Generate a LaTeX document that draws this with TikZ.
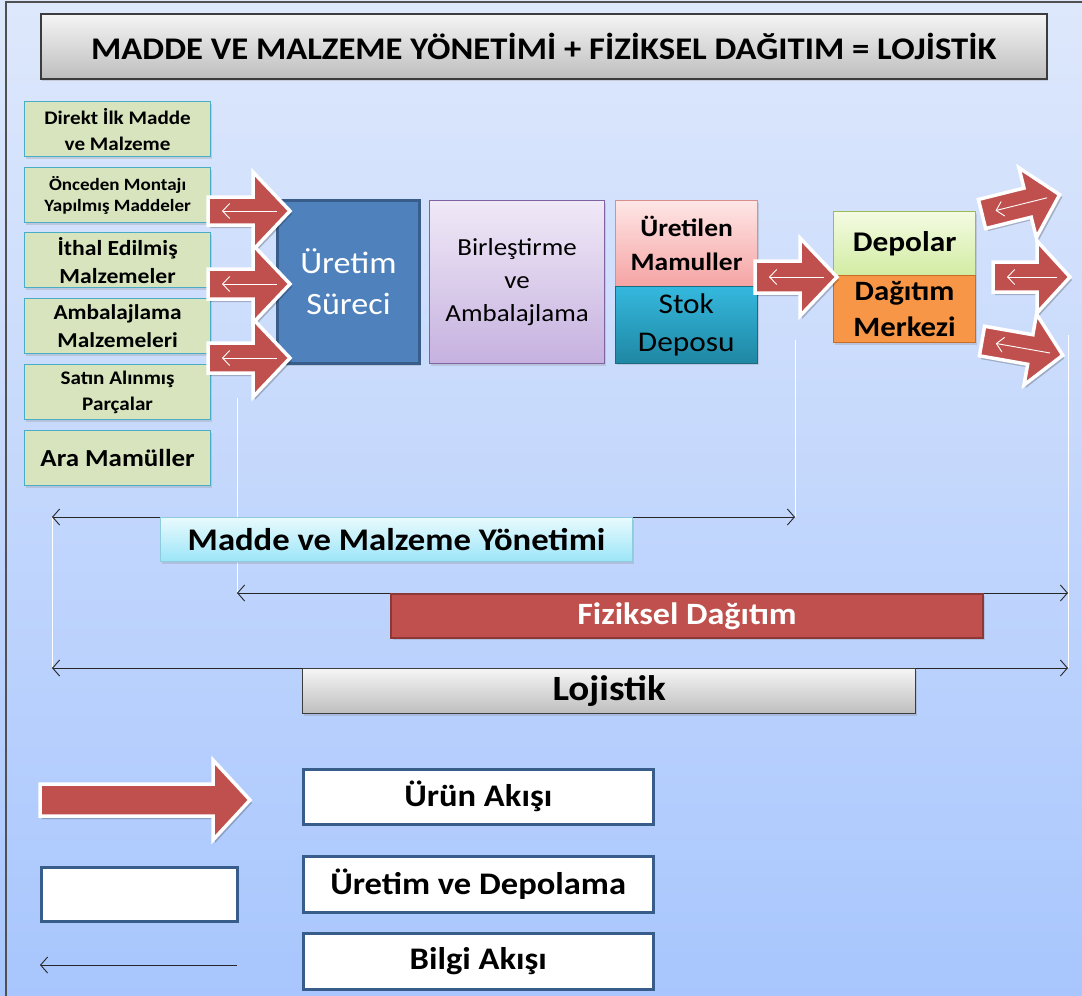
\documentclass[tikz,border=0pt]{standalone}
\usepackage{fontspec}
\setmainfont{Carlito}[FakeStretch=1.1]
\usetikzlibrary{arrows.meta,shadows}

\definecolor{bgtop}{HTML}{DEE8FC}
\definecolor{bgbot}{HTML}{A8C6FD}
\definecolor{frameline}{HTML}{505050}
\definecolor{srcfill}{HTML}{D7E4BD}
\definecolor{srcline}{HTML}{4BACC6}
\definecolor{flowred}{HTML}{C0504D}
\definecolor{flowredline}{HTML}{8C3836}
\definecolor{procfill}{HTML}{4F81BD}
\definecolor{procline}{HTML}{385D8A}
\definecolor{lavtop}{HTML}{F0E9F7}
\definecolor{lavbot}{HTML}{C6B1DF}
\definecolor{lavline}{HTML}{8064A2}
\definecolor{pinktop}{HTML}{FFE6E6}
\definecolor{pinkbot}{HTML}{F5A3A3}
\definecolor{pinkline}{HTML}{D98F8D}
\definecolor{tealtop}{HTML}{35B8DE}
\definecolor{tealbot}{HTML}{1F87A3}
\definecolor{limetop}{HTML}{F4FBE2}
\definecolor{limebot}{HTML}{D2ECA2}
\definecolor{limeline}{HTML}{9BBB59}
\definecolor{orangefill}{HTML}{F79646}
\definecolor{orangeline}{HTML}{C86D28}
\definecolor{cyantop}{HTML}{E8FAFD}
\definecolor{cyanbot}{HTML}{9BE5F8}
\definecolor{cyanline}{HTML}{8ECBDC}
\definecolor{graytop}{HTML}{F5F5F5}
\definecolor{graybot}{HTML}{BEBEBE}
\definecolor{grayline}{HTML}{3C3C3C}

\newcommand{\fs}[1]{\fontsize{#1}{1.2\dimexpr#1pt\relax}\selectfont}

\tikzset{
  base/.style={anchor=north west, inner sep=0pt, align=center, line width=1.2pt,
    drop shadow={shadow xshift=1.5pt, shadow yshift=-2pt, opacity=0.25}},
  srcbox/.style={base, fill=srcfill, draw=srcline, minimum width=186pt, minimum height=55pt},
  procbox/.style={base, fill=procfill, draw=procline, line width=3pt, text=white},
  joinbox/.style={base, top color=lavtop, bottom color=lavbot, draw=lavline},
  madebox/.style={base, top color=pinktop, bottom color=pinkbot, draw=pinkline, font=\bfseries},
  stockbox/.style={base, top color=tealtop, bottom color=tealbot, draw=tealbot!80!black, line width=0.6pt},
  depotbox/.style={base, top color=limetop, bottom color=limebot, draw=limeline, font=\bfseries},
  distbox/.style={base, fill=orangefill, draw=orangeline, font=\bfseries},
  titlebox/.style={base, top color=graytop, bottom color=graybot, draw=grayline, line width=1.5pt},
  mmybox/.style={base, top color=cyantop, bottom color=cyanbot, draw=cyanline},
  fizbox/.style={base, fill=flowred, draw=flowredline, line width=2pt, text=white},
  lojbox/.style={base, top color=graytop, bottom color=graybot, draw=grayline},
  keybox/.style={base, fill=white, draw=procline, line width=2.5pt, minimum width=350pt, font=\fontsize{31.4}{36}\selectfont\bfseries},
  flowshape/.style={fill=flowred, draw=white, line width=3.5pt, line join=miter},
  flowshadow/.style={fill=black, opacity=0.22},
  infow/.style={draw=white, line width=0.9pt, -{Straight Barb[length=7pt,width=15pt,line width=0.9pt]}},
  infok/.style={draw=black!85, line width=0.9pt, {Straight Barb[length=7pt,width=16pt,line width=0.9pt]}-{Straight Barb[length=7pt,width=16pt,line width=0.9pt]}},
  infoone/.style={draw=black!85, line width=0.9pt, -{Straight Barb[length=7pt,width=16pt,line width=0.9pt]}},
  guide/.style={draw=white, line width=0.9pt},
}

% product-flow block arrow: name, tail point, angle, length, body half, head half, head length
\newcommand{\prodarrow}[7]{%
  \begin{scope}[shift={#2}, rotate=#3]
    \fill[flowshadow] (2,-#5+3) -- ({#4-#7+2},-#5+3) -- ({#4-#7+2},-#6+3) -- (#4+2,3)
      -- ({#4-#7+2},#6+3) -- ({#4-#7+2},#5+3) -- (2,#5+3) -- cycle;
    \draw[flowshape] (0,-#5) -- ({#4-#7},-#5) -- ({#4-#7},-#6) -- (#4,0)
      -- ({#4-#7},#6) -- ({#4-#7},#5) -- (0,#5) -- cycle;
    \coordinate (#1-tail) at (0,0);
    \coordinate (#1-tip) at (#4,0);
    \coordinate (#1-in) at ({#4-13},0);
    \coordinate (#1-out) at (14,0);
  \end{scope}}

\begin{document}
\begin{tikzpicture}[x=1pt,y=-1pt]
  \useasboundingbox (0,0) rectangle (1082,996);
  \shade[top color=bgtop, bottom color=bgbot] (0,0) rectangle (1082,996);
  \draw[frameline, line width=1.6pt] (6,996) -- (6,2) -- (1082,2);

  % heading
  \node[titlebox, minimum width=1006pt, minimum height=65pt,
        font=\fontsize{31.5}{36}\selectfont\bfseries] (title) at (40,13)
        {MADDE VE MALZEME YÖNETİMİ + FİZİKSEL DAĞITIM = LOJİSTİK};

  % guide lines
  \coordinate (g1a) at (237,398); \coordinate (g1b) at (237,593);
  \coordinate (g2a) at (795,340); \coordinate (g2b) at (795,517);
  \coordinate (g3a) at (52,517);  \coordinate (g3b) at (52,668);
  \coordinate (g4a) at (1068,335); \coordinate (g4b) at (1068,668);
  \draw[guide] (g1a) -- (g1b);
  \draw[guide] (g2a) -- (g2b);
  \draw[guide] (g3a) -- (g3b);
  \draw[guide] (g4a) -- (g4b);

  % input materials
  \node[srcbox, font=\fontsize{19.2}{26}\selectfont\bfseries] (s1) at (24,101) {Direkt İlk Madde\\ve Malzeme};
  \node[srcbox, font=\fontsize{17.3}{21}\selectfont\bfseries] (s2) at (24,167) {Önceden Montajı\\Yapılmış Maddeler};
  \node[srcbox, font=\fontsize{21.5}{28}\selectfont\bfseries] (s3) at (24,232) {İthal Edilmiş\\Malzemeler};
  \node[srcbox, font=\fontsize{21.2}{28}\selectfont\bfseries] (s4) at (24,298) {Ambalajlama\\Malzemeleri};
  \node[srcbox, font=\fontsize{19.2}{26}\selectfont\bfseries] (s5) at (24,364) {Satın Alınmış\\Parçalar};
  \node[srcbox, font=\fontsize{24.5}{28}\selectfont\bfseries] (s6) at (24,430) {Ara Mamüller};

  % production and storage
  \node[procbox, minimum width=142pt, minimum height=163pt, font=\fontsize{31}{41}\selectfont] (prod) at (276,199) {Üretim\\Süreci};
  \node[joinbox, minimum width=175pt, minimum height=163pt, font=\fontsize{24.5}{33}\selectfont] (pack) at (429,200) {Birleştirme\\ve\\Ambalajlama};
  \node[madebox, minimum width=142pt, minimum height=86pt, font=\fontsize{25}{34}\selectfont\bfseries] (made) at (615,200) {Üretilen\\Mamuller};
  \node[stockbox, minimum width=142pt, minimum height=77pt, font=\fontsize{28.5}{38}\selectfont] (stock) at (615,286) {Stok\\Deposu};
  \node[depotbox, minimum width=142pt, minimum height=64pt, font=\fontsize{28.5}{32}\selectfont\bfseries] (depot) at (833,211) {Depolar};
  \node[distbox, minimum width=142pt, minimum height=67pt, font=\fontsize{28}{36}\selectfont\bfseries] (dist) at (833,275) {Dağıtım\\Merkezi};

  % product flows with information flows inside
  \prodarrow{a1}{(208,211)}{0}{82}{14}{39}{37}
  \prodarrow{a2}{(208,284)}{0}{82}{15}{39}{37}
  \prodarrow{a3}{(208,358)}{0}{82}{15}{39}{37}
  \prodarrow{a4}{(755,277)}{0}{82}{16}{39}{37}
  \prodarrow{a5}{(982,214)}{14}{80}{15}{36}{33}
  \prodarrow{a6}{(993,277)}{0}{77}{15}{36}{33}
  \prodarrow{a7}{(982,341)}{-10}{82}{15}{36}{33}
  \foreach \a in {a1,a2,a3,a4,a5,a6,a7}
    \draw[infow] (\a-in) -- (\a-out);

  % spans
  \coordinate (mL) at (52,517);  \coordinate (mR) at (795,517);
  \coordinate (fL) at (237,593); \coordinate (fR) at (1068,593);
  \coordinate (lL) at (52,668);  \coordinate (lR) at (1068,668);
  \draw[infok] (mL) -- (mR);
  \draw[infok] (fL) -- (fR);
  \draw[infok] (lL) -- (lR);
  \node[mmybox, minimum width=472pt, minimum height=44pt, font=\fontsize{31.5}{34}\selectfont\bfseries] (mmy) at (160,517) {Madde ve Malzeme Yönetimi};
  \node[fizbox, minimum width=592pt, minimum height=44pt, font=\fontsize{31}{34}\selectfont\bfseries] (fiz) at (390,593) {Fiziksel Dağıtım};
  \node[lojbox, minimum width=613pt, minimum height=45pt, font=\fontsize{35.5}{38}\selectfont\bfseries] (loj) at (302,668) {Lojistik};

  % key
  \prodarrow{k1}{(40,800)}{0}{210}{16}{40}{37}
  \node[keybox, minimum height=55pt] (k1t) at (302,768) {Ürün Akışı};
  \node[base, fill=white, draw=procline, line width=2.5pt, minimum width=196pt, minimum height=54pt] (k2) at (40,866) {};
  \node[keybox, minimum height=56pt] (k2t) at (302,855) {Üretim ve Depolama};
  \coordinate (k3a) at (237,965); \coordinate (k3b) at (40,965);
  \draw[infoone] (k3a) -- (k3b);
  \node[keybox, minimum height=56pt] (k3t) at (302,932) {Bilgi Akışı};
\end{tikzpicture}
\end{document}
